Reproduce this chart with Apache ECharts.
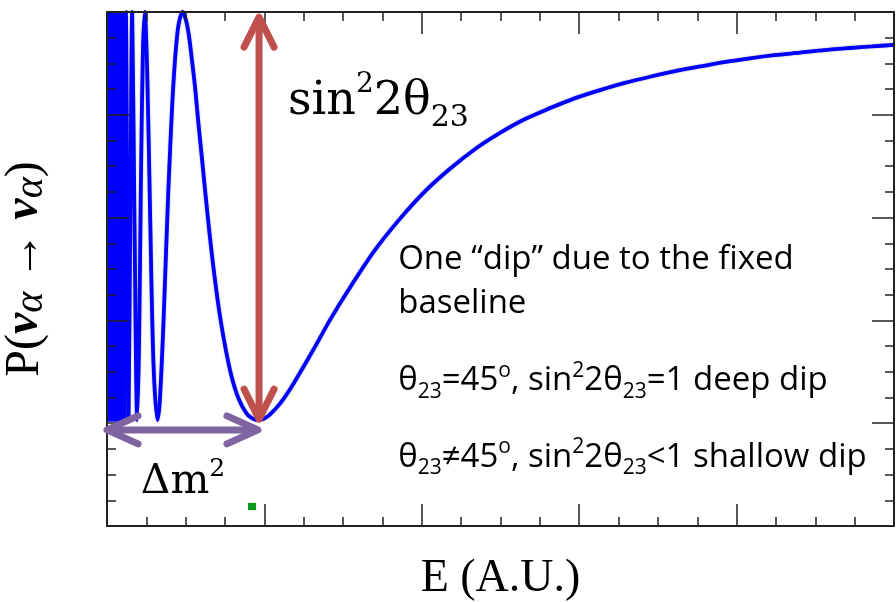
<!DOCTYPE html>
<html>
<head>
<meta charset="utf-8">
<title>P(να → να)</title>
<script src="https://cdn.jsdelivr.net/npm/echarts@6/dist/echarts.min.js"></script>
<style>
html,body{margin:0;padding:0;background:#fff;}
#main{width:896px;height:602px;}
</style>
</head>
<body>
<div id="main"></div>
<script>
	//曲线数据: 能量 E (任意单位) 和存活概率 P
	let energy=[0.107,0.120,0.137,0.148,0.160,0.174,0.192,0.204,0.215,0.228,0.240,0.255,0.274,0.295,0.320,0.335,0.359,0.386,0.419,0.450,0.480,0.502,0.520,0.538,0.559,0.579,0.603,0.628,0.655,0.685,0.718,0.754,0.793,0.837,0.886,0.920,0.959,1.000,1.036,1.099,1.163,1.226,1.322,1.417,1.544,1.703,1.862,2.020,2.179,2.350,2.497,2.650,2.815,2.970,3.132,3.290,3.450,3.610,3.768,3.930,4.085,4.240,4.403,4.560,4.721,4.860,5.000];
	let prob=[0.206,1.000,0.206,0.611,1.000,0.611,0.206,0.359,0.657,0.923,1.000,0.889,0.605,0.319,0.206,0.241,0.397,0.624,0.845,0.966,1.000,0.984,0.955,0.911,0.855,0.789,0.716,0.638,0.559,0.481,0.408,0.344,0.289,0.247,0.219,0.210,0.206,0.209,0.217,0.238,0.266,0.298,0.349,0.401,0.464,0.537,0.598,0.651,0.695,0.736,0.765,0.791,0.813,0.832,0.848,0.862,0.874,0.885,0.894,0.903,0.910,0.916,0.921,0.926,0.930,0.933,0.936];
	//左边快速振荡区 (E起点, E终点, P下限, P上限)
	let denseBand=[[0,0.125,0.203,1.0]];
	//坐标轴范围
	let xRange=[0,5], xStep=1;
	let yRange=[0,1], yStep=0.2;

	//标注位置 (数据坐标)
	let redArrow=[[0.966,0.990],[0.966,0.208]];
	let purpleArrow=[[0.0,0.187],[0.959,0.187]];
	let sinLabelPos=[1.150,0.825];
	let dmLabelPos=[0.215,0.0856];
	let notesX=1.850;
	let notesY=[0.519,0.432,0.282,0.134];
	let greenMark=[[0.896,0.045],[0.947,0.031]];

	let fontSans='"Open Sans", sans-serif';
	let fontSerif='"DejaVu Serif", serif';
	let fontTimes='"Liberation Serif", serif';

	function axisCommon(pos){
		return {
			type:'value',
			position:pos,
			z:10,
			axisLine:{show:true,onZero:false,lineStyle:{color:'#222',width:2}},
			axisTick:{show:true,inside:true,length:22,lineStyle:{color:'#222',width:1.5}},
			minorTick:{show:true,splitNumber:4,length:9,lineStyle:{color:'#222',width:1.5}},
			axisLabel:{show:false},
			splitLine:{show:false}
		};
	}

	let xBottom=Object.assign(axisCommon('bottom'),{
		min:xRange[0],max:xRange[1],interval:xStep,
		name:'E (A.U.)',nameLocation:'middle',nameGap:30,
		nameTextStyle:{fontFamily:fontTimes,fontSize:46,color:'#000'}
	});
	let xTop=Object.assign(axisCommon('top'),{min:xRange[0],max:xRange[1],interval:xStep});
	let yLeft=Object.assign(axisCommon('left'),{
		min:yRange[0],max:yRange[1],interval:yStep,
		name:'{n|P(}{v|ν}{a|α}{n| → }{v|ν}{a|α}{n|)}',
		nameLocation:'middle',nameRotate:90,nameGap:56,
		nameTextStyle:{
			fontFamily:fontTimes,fontSize:48,color:'#000',
			rich:{
				n:{fontFamily:fontTimes,fontSize:48,color:'#000',lineHeight:52},
				v:{fontFamily:fontTimes,fontSize:48,fontStyle:'italic',fontWeight:'bold',color:'#000',lineHeight:52},
				a:{fontFamily:fontTimes,fontSize:40,fontStyle:'italic',color:'#000',lineHeight:46,verticalAlign:'bottom'}
			}
		}
	});
	let yRight=Object.assign(axisCommon('right'),{min:yRange[0],max:yRange[1],interval:yStep});

	let curve=energy.map(function(e,i){return [e,prob[i]];});

	let myChart=echarts.init(document.getElementById('main'));
	myChart.setOption({
		animation:false,
		grid:{left:107,top:12,width:787,height:514,containLabel:false,outerBoundsMode:'none'},
		xAxis:[xBottom,xTop],
		yAxis:[yLeft,yRight],
		series:[
			{
				type:'custom',
				data:denseBand,
				encode:{x:[0,1],y:[2,3]},
				renderItem:function(params,api){
					let p0=api.coord([api.value(0),api.value(3)]);
					let p1=api.coord([api.value(1),api.value(2)]);
					return {type:'rect',shape:{x:p0[0],y:p0[1],width:p1[0]-p0[0],height:p1[1]-p0[1]},style:{fill:'#0000ff'}};
				},
				z:3
			},
			{
				type:'line',
				data:curve,
				showSymbol:false,
				clip:false,
				smooth:0.3,
				lineStyle:{color:'#0000ff',width:3.8,shadowColor:'rgba(0,0,0,0.35)',shadowBlur:2},
				z:4
			}
		]
	});

	//把数据坐标转成像素
	function px(p){return myChart.convertToPixel({gridIndex:0},p);}

	//双向箭头
	function doubleArrow(a,b,color,headLen,headHalf){
		let dx=b[0]-a[0],dy=b[1]-a[1];
		let len=Math.sqrt(dx*dx+dy*dy);
		let ux=dx/len,uy=dy/len,nx=-uy,ny=ux;
		let st={stroke:color,lineWidth:7,lineCap:'round',lineJoin:'round',fill:null};
		return [
			{type:'polyline',z:100,shape:{points:[[a[0]+ux*3,a[1]+uy*3],[b[0]-ux*3,b[1]-uy*3]]},style:st},
			{type:'polyline',z:100,shape:{points:[
				[a[0]+ux*headLen+nx*headHalf,a[1]+uy*headLen+ny*headHalf],a,
				[a[0]+ux*headLen-nx*headHalf,a[1]+uy*headLen-ny*headHalf]]},style:st},
			{type:'polyline',z:100,shape:{points:[
				[b[0]-ux*headLen+nx*headHalf,b[1]-uy*headLen+ny*headHalf],b,
				[b[0]-ux*headLen-nx*headHalf,b[1]-uy*headLen-ny*headHalf]]},style:st}
		];
	}

	let richNote={
		t:{fontFamily:fontSans,fontSize:33,color:'#000',lineHeight:42},
		sub:{fontFamily:fontSans,fontSize:21,color:'#000',lineHeight:21,verticalAlign:'bottom'},
		sup:{fontFamily:fontSans,fontSize:21,color:'#000',lineHeight:23,verticalAlign:'top'}
	};
	let noteLines=[
		'{t|One “dip” due to the fixed}',
		'{t|baseline}',
		'{t|θ}{sub|23}{t|=45}{sup|o}{t|, sin}{sup|2}{t|2θ}{sub|23}{t|=1 deep dip}',
		'{t|θ}{sub|23}{t|≠45}{sup|o}{t|, sin}{sup|2}{t|2θ}{sub|23}{t|<1 shallow dip}'
	];

	let g=[];
	g=g.concat(doubleArrow(px(redArrow[0]),px(redArrow[1]),'#c0504d',30,15));
	g=g.concat(doubleArrow(px(purpleArrow[0]),px(purpleArrow[1]),'#8064a2',31,14));

	let sp=px(sinLabelPos);
	g.push({type:'text',z:100,x:sp[0],y:sp[1],style:{
		text:'{m|sin}{sup|2}{m|2θ}{sub|23}',align:'left',verticalAlign:'middle',
		rich:{
			m:{fontFamily:fontSerif,fontSize:46,color:'#a33a30',lineHeight:62},
			sup:{fontFamily:fontSerif,fontSize:28,color:'#a33a30',lineHeight:42,verticalAlign:'top'},
			sub:{fontFamily:fontSerif,fontSize:30,color:'#a33a30',lineHeight:30,verticalAlign:'bottom'}
		}
	}});

	let dp=px(dmLabelPos);
	g.push({type:'text',z:100,x:dp[0],y:dp[1],style:{
		text:'{m|Δm}{sup|2}',align:'left',verticalAlign:'middle',
		rich:{
			m:{fontFamily:fontSerif,fontSize:41,color:'#5e4d8e',lineHeight:50},
			sup:{fontFamily:fontSerif,fontSize:25,color:'#5e4d8e',lineHeight:42,verticalAlign:'top'}
		}
	}});

	noteLines.forEach(function(s,i){
		let p=px([notesX,notesY[i]]);
		g.push({type:'text',z:100,x:p[0],y:p[1],style:{text:s,align:'left',verticalAlign:'middle',rich:richNote}});
	});

	let gm0=px(greenMark[0]),gm1=px(greenMark[1]);
	g.push({type:'rect',z:100,shape:{x:gm0[0],y:gm0[1],width:gm1[0]-gm0[0],height:gm1[1]-gm0[1]},style:{fill:'#0a9a1a'}});

	myChart.setOption({graphic:g});
</script>
</body>
</html>
